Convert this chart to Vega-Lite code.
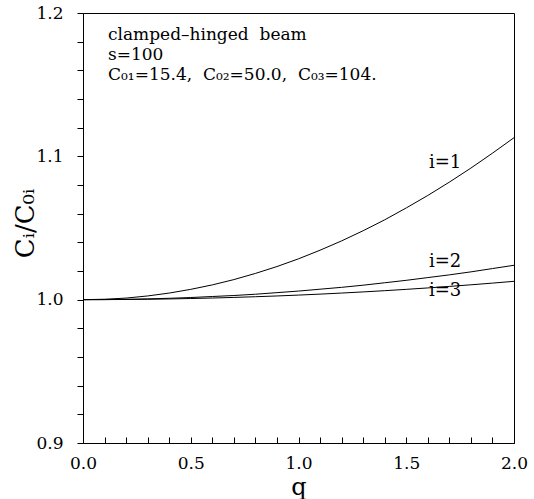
{
  "$schema": "https://vega.github.io/schema/vega-lite/v6.json",
  "width": 431,
  "height": 430,
  "autosize": {"type": "none"},
  "padding": {"left": 83, "top": 13, "right": 20, "bottom": 56},
  "background": "white",
  "config": {
    "view": {"stroke": "black", "strokeWidth": 1},
    "font": "DejaVu Serif",
    "axis": {
      "domainColor": "black", "tickColor": "black", "labelColor": "black", "titleColor": "black",
      "labelFont": "DejaVu Serif", "titleFont": "DejaVu Serif", "grid": false,
      "labelFontSize": 17, "titleFontWeight": "normal", "titleFontSize": 22, "labelOverlap": false
    }
  },
  "resolve": {"axis": {"x": "independent", "y": "independent"}},
  "datasets": {
    "curves": [
      {"i": "1", "q": 0.0, "r": 1.0000}, {"i": "1", "q": 0.1, "r": 1.0003}, {"i": "1", "q": 0.2, "r": 1.0011},
      {"i": "1", "q": 0.3, "r": 1.0026}, {"i": "1", "q": 0.4, "r": 1.0046}, {"i": "1", "q": 0.5, "r": 1.0072},
      {"i": "1", "q": 0.6, "r": 1.0103}, {"i": "1", "q": 0.7, "r": 1.0140}, {"i": "1", "q": 0.8, "r": 1.0183},
      {"i": "1", "q": 0.9, "r": 1.0231}, {"i": "1", "q": 1.0, "r": 1.0285}, {"i": "1", "q": 1.1, "r": 1.0345},
      {"i": "1", "q": 1.2, "r": 1.0410}, {"i": "1", "q": 1.3, "r": 1.0481}, {"i": "1", "q": 1.4, "r": 1.0557},
      {"i": "1", "q": 1.5, "r": 1.0640}, {"i": "1", "q": 1.6, "r": 1.0727}, {"i": "1", "q": 1.7, "r": 1.0820},
      {"i": "1", "q": 1.8, "r": 1.0918}, {"i": "1", "q": 1.9, "r": 1.1022}, {"i": "1", "q": 2.0, "r": 1.1130},
      {"i": "2", "q": 0.0, "r": 1.0000}, {"i": "2", "q": 0.1, "r": 1.00006}, {"i": "2", "q": 0.2, "r": 1.00024},
      {"i": "2", "q": 0.3, "r": 1.00054}, {"i": "2", "q": 0.4, "r": 1.00096}, {"i": "2", "q": 0.5, "r": 1.0015},
      {"i": "2", "q": 0.6, "r": 1.0022}, {"i": "2", "q": 0.7, "r": 1.0029}, {"i": "2", "q": 0.8, "r": 1.0038},
      {"i": "2", "q": 0.9, "r": 1.0049}, {"i": "2", "q": 1.0, "r": 1.0060}, {"i": "2", "q": 1.1, "r": 1.0073},
      {"i": "2", "q": 1.2, "r": 1.0086}, {"i": "2", "q": 1.3, "r": 1.0101}, {"i": "2", "q": 1.4, "r": 1.0118},
      {"i": "2", "q": 1.5, "r": 1.0135}, {"i": "2", "q": 1.6, "r": 1.0154}, {"i": "2", "q": 1.7, "r": 1.0173},
      {"i": "2", "q": 1.8, "r": 1.0194}, {"i": "2", "q": 1.9, "r": 1.0217}, {"i": "2", "q": 2.0, "r": 1.0240},
      {"i": "3", "q": 0.0, "r": 1.0000}, {"i": "3", "q": 0.1, "r": 1.00003}, {"i": "3", "q": 0.2, "r": 1.00013},
      {"i": "3", "q": 0.3, "r": 1.00029}, {"i": "3", "q": 0.4, "r": 1.00051}, {"i": "3", "q": 0.5, "r": 1.0008},
      {"i": "3", "q": 0.6, "r": 1.00115}, {"i": "3", "q": 0.7, "r": 1.00157}, {"i": "3", "q": 0.8, "r": 1.00205},
      {"i": "3", "q": 0.9, "r": 1.00259}, {"i": "3", "q": 1.0, "r": 1.0032}, {"i": "3", "q": 1.1, "r": 1.00387},
      {"i": "3", "q": 1.2, "r": 1.00461}, {"i": "3", "q": 1.3, "r": 1.00541}, {"i": "3", "q": 1.4, "r": 1.00627},
      {"i": "3", "q": 1.5, "r": 1.0072}, {"i": "3", "q": 1.6, "r": 1.00819}, {"i": "3", "q": 1.7, "r": 1.00925},
      {"i": "3", "q": 1.8, "r": 1.01037}, {"i": "3", "q": 1.9, "r": 1.01155}, {"i": "3", "q": 2.0, "r": 1.0128}
    ],
    "curveLabels": [
      {"q": 1.68, "r": 1.0918, "label": "i=1"},
      {"q": 1.68, "r": 1.0227, "label": "i=2"},
      {"q": 1.68, "r": 1.0025, "label": "i=3"}
    ],
    "notes": [
      {"q": 0.116, "r": 1.1812, "label": "clamped–hinged\u00a0 beam"},
      {"q": 0.116, "r": 1.1672, "label": "s=100"},
      {"q": 0.116, "r": 1.1532, "label": "C₀₁=15.4,\u00a0 C₀₂=50.0,\u00a0 C₀₃=104."}
    ]
  },
  "layer": [
    {
      "data": {"name": "curves"},
      "mark": {"type": "line", "color": "black", "strokeWidth": 1},
      "encoding": {
        "x": {
          "field": "q", "type": "quantitative",
          "scale": {"domain": [0, 2], "nice": false, "zero": false},
          "axis": {
            "orient": "bottom", "title": "q", "titlePadding": 4, "titleFontSize": 24,
            "values": [0, 0.5, 1.0, 1.5, 2.0], "format": ".1f",
            "tickSize": -6, "labelPadding": 18, "labelFlush": false
          }
        },
        "y": {
          "field": "r", "type": "quantitative",
          "scale": {"domain": [0.9, 1.2], "nice": false, "zero": false},
          "axis": {
            "orient": "left", "title": "Cᵢ/C₀ᵢ", "titleFontSize": 26,
            "titleX": -58, "titleY": 210, "titleAngle": -90, "titleAlign": "center", "titleBaseline": "middle",
            "values": [0.9, 1.0, 1.1, 1.2], "format": ".1f",
            "tickSize": 6, "labelPadding": 14, "labelFlush": false
          }
        },
        "detail": {"field": "i"}
      }
    },
    {
      "data": {"name": "curves"},
      "mark": {"type": "point", "opacity": 0},
      "encoding": {
        "x": {
          "field": "q", "type": "quantitative",
          "axis": {
            "orient": "bottom", "title": null, "labels": false, "domain": false,
            "values": [0.1, 0.2, 0.3, 0.4, 0.6, 0.7, 0.8, 0.9, 1.1, 1.2, 1.3, 1.4, 1.6, 1.7, 1.8, 1.9],
            "tickSize": -6
          }
        },
        "y": {
          "field": "r", "type": "quantitative",
          "axis": {
            "orient": "left", "title": null, "labels": false, "domain": false,
            "values": [0.92, 0.94, 0.96, 0.98, 1.02, 1.04, 1.06, 1.08, 1.12, 1.14, 1.16, 1.18],
            "tickSize": 6
          }
        }
      }
    },
    {
      "data": {"name": "curveLabels"},
      "mark": {"type": "text", "fontSize": 18, "align": "center", "baseline": "alphabetic", "color": "black", "font": "DejaVu Serif"},
      "encoding": {
        "x": {"field": "q", "type": "quantitative", "axis": null},
        "y": {"field": "r", "type": "quantitative", "axis": null},
        "text": {"field": "label"}
      }
    },
    {
      "data": {"name": "notes"},
      "mark": {"type": "text", "fontSize": 17, "align": "left", "baseline": "alphabetic", "color": "black", "font": "DejaVu Serif"},
      "encoding": {
        "x": {"field": "q", "type": "quantitative", "axis": null},
        "y": {"field": "r", "type": "quantitative", "axis": null},
        "text": {"field": "label"}
      }
    }
  ]
}
